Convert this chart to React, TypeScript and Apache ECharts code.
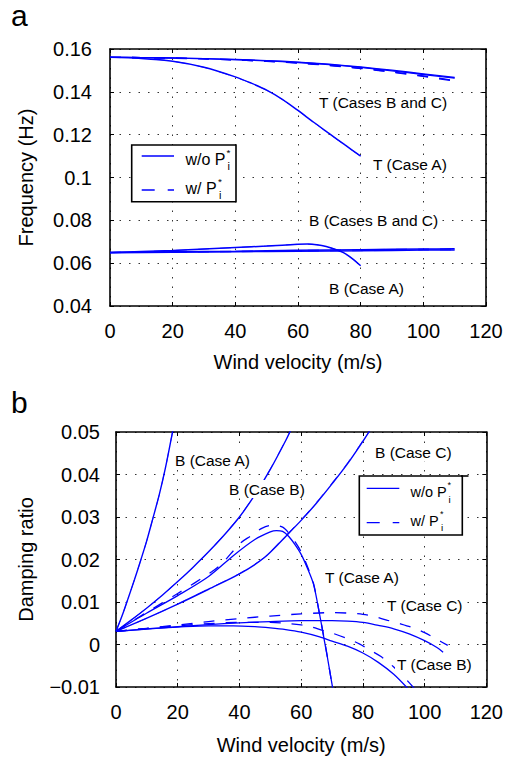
import React, { useEffect, useRef } from 'react';
import * as echarts from 'echarts';

const W = 506;
const H = 758;
const BLUE = '#0000ff';
const FONT = '"Liberation Sans", Arial, Helvetica, sans-serif';
const DASH = [11, 11];

// ---------- tick labels ----------
const X_TICKS = ['0', '20', '40', '60', '80', '100', '120'];
const FREQ_TICKS = ['0.04', '0.06', '0.08', '0.1', '0.12', '0.14', '0.16'];
const DAMP_TICKS = ['\u22120.01', '0', '0.01', '0.02', '0.03', '0.04', '0.05'];

// ---------- panel a : frequency ----------
const FT_BC_X = [0, 10, 20, 30, 40, 50, 60, 70, 80, 90, 100, 110];
const FT_B_SOLID = [0.1561, 0.156, 0.1558, 0.1555, 0.1551, 0.1546, 0.1539, 0.1529, 0.1516, 0.1501, 0.1484, 0.1467];
const FT_C_SOLID = [0.1561, 0.156, 0.1558, 0.1555, 0.155, 0.1545, 0.1537, 0.1527, 0.1514, 0.1498, 0.1481, 0.1464];
const FT_B_DASH = [0.1561, 0.156, 0.1558, 0.1554, 0.1549, 0.1543, 0.1535, 0.1524, 0.151, 0.1493, 0.1474, 0.1453];
const FT_C_DASH = [0.1561, 0.156, 0.1557, 0.1554, 0.1549, 0.1542, 0.1534, 0.1523, 0.1509, 0.1492, 0.1472, 0.145];

const FT_A_X = [0, 10, 20, 30, 40, 45, 50, 55, 60, 65, 70, 75, 80];
const FT_A_SOLID = [0.1561, 0.1556, 0.1543, 0.1515, 0.147, 0.1441, 0.1408, 0.1365, 0.1313, 0.1258, 0.1205, 0.1152, 0.11];
const FT_A_DASH = [0.1561, 0.1556, 0.1543, 0.1514, 0.1469, 0.144, 0.1407, 0.1364, 0.1312, 0.1257, 0.1204, 0.1151, 0.1099];

const FB_BC_X = [0, 20, 40, 60, 80, 100, 110];
const FB_B_SOLID = [0.065, 0.0653, 0.0656, 0.066, 0.0663, 0.0666, 0.0667];
const FB_C_SOLID = [0.0649, 0.0651, 0.0653, 0.0656, 0.0658, 0.0661, 0.0662];
const FB_B_DASH = [0.065, 0.0653, 0.0656, 0.066, 0.0663, 0.0666, 0.0667];
const FB_C_DASH = [0.0649, 0.0651, 0.0653, 0.0656, 0.0658, 0.0661, 0.0662];

const FB_A_X = [0, 10, 20, 30, 40, 50, 60, 63, 66, 69, 72, 74.5, 77, 80];
const FB_A_SOLID = [0.065, 0.0654, 0.0659, 0.0666, 0.0673, 0.068, 0.0688, 0.0689, 0.0686, 0.0678, 0.0664, 0.0649, 0.0625, 0.0588];
const FB_A_DASH = [0.065, 0.0654, 0.0659, 0.0666, 0.0673, 0.068, 0.0688, 0.0689, 0.0686, 0.0678, 0.0664, 0.0649, 0.0625, 0.0588];

// ---------- panel b : damping ratio ----------
const DB_A_X = [0, 2, 4, 6, 8, 10, 12, 14, 16, 18, 19];
const DB_A_SOLID = [0.0031, 0.0068, 0.011, 0.0153, 0.0198, 0.0245, 0.0298, 0.0352, 0.0415, 0.0488, 0.0525];
const DB_A_DASH = [0.0031, 0.0068, 0.011, 0.0153, 0.0198, 0.0245, 0.0298, 0.0352, 0.0415, 0.0488, 0.0525];

const DB_B_X = [0, 5, 10, 15, 20, 25, 30, 35, 40, 45, 50, 55, 57];
const DB_B_SOLID = [0.0031, 0.0058, 0.0086, 0.0116, 0.0148, 0.0182, 0.0218, 0.0257, 0.03, 0.0352, 0.0412, 0.048, 0.051];
const DB_B_DASH = [0.0031, 0.0058, 0.0086, 0.0116, 0.0148, 0.0182, 0.0219, 0.0258, 0.0301, 0.0353, 0.0413, 0.0481, 0.0511];

const DB_C_X = [0, 10, 20, 30, 40, 48, 56, 60, 65, 70, 75, 80, 83];
const DB_C_SOLID = [0.0031, 0.0062, 0.0095, 0.013, 0.0166, 0.0204, 0.0262, 0.0292, 0.0333, 0.0378, 0.0425, 0.0478, 0.0512];
const DB_C_DASH = [0.0031, 0.0062, 0.0095, 0.0131, 0.0167, 0.0205, 0.0264, 0.0294, 0.0335, 0.038, 0.0427, 0.048, 0.0514];

const DT_A_SOLID_X = [0, 10, 20, 30, 38, 45, 50, 52, 54, 56, 58, 60, 62, 64, 66, 67.3, 68.5, 70.2];
const DT_A_SOLID = [0.0031, 0.0074, 0.0115, 0.016, 0.0209, 0.0247, 0.0265, 0.0268, 0.0266, 0.0254, 0.0235, 0.0212, 0.018, 0.0142, 0.007, 0.0018, -0.003, -0.0102];
const DT_A_DASH_X = [0, 10, 20, 31, 34.4, 40.4, 43.6, 47.4, 51, 54, 56, 58, 60, 62, 64, 66, 68, 70];
const DT_A_DASH = [0.0031, 0.0076, 0.012, 0.0171, 0.0191, 0.0239, 0.0255, 0.0274, 0.0281, 0.0276, 0.0262, 0.0242, 0.0218, 0.0184, 0.0144, 0.007, -0.0008, -0.0095];

const DT_C_SOLID_X = [0, 10, 20, 30, 40, 50, 60, 70, 75, 80, 85, 90, 95, 100, 104, 106];
const DT_C_SOLID = [0.0031, 0.0036, 0.0042, 0.0047, 0.0051, 0.0054, 0.0056, 0.0056, 0.0055, 0.0052, 0.0045, 0.0037, 0.0025, 0.0009, -0.0007, -0.0018];
const DT_C_DASH_X = [0, 10, 20, 30, 40, 50, 60, 70, 75, 80, 84, 88, 92, 96, 100, 104, 107.5];
const DT_C_DASH = [0.0031, 0.0038, 0.0046, 0.0054, 0.0061, 0.0067, 0.0072, 0.0075, 0.0074, 0.0071, 0.0065, 0.0057, 0.0049, 0.004, 0.0028, 0.0012, -0.0002];

const DT_B_SOLID_X = [0, 10, 20, 30, 38, 45, 50, 55, 60, 66, 70, 75, 80, 85, 90, 94.5];
const DT_B_SOLID = [0.0031, 0.0037, 0.0041, 0.0044, 0.0044, 0.0042, 0.0039, 0.0035, 0.0029, 0.0018, 0.0008, -0.0004, -0.002, -0.0042, -0.007, -0.0103];
const DT_B_DASH_X = [0, 10, 20, 30, 40, 50, 55, 60, 63, 67, 70, 75, 79, 82, 86, 90, 94, 97];
const DT_B_DASH = [0.0031, 0.0038, 0.0044, 0.0049, 0.0052, 0.0052, 0.005, 0.0046, 0.0042, 0.0033, 0.0027, 0.0014, 0.0001, -0.0012, -0.0029, -0.0053, -0.0082, -0.0106];

// ---------- annotation texts ----------
const A_LABELS = ['T (Cases B and C)', 'T (Case A)', 'B (Cases B and C)', 'B (Case A)'];
const B_LABELS = ['B (Case A)', 'B (Case B)', 'B (Case C)', 'T (Case A)', 'T (Case C)', 'T (Case B)'];
const LEGEND_SOLID = 'w/o P';
const LEGEND_DASH = 'w/ P';

function pairs(xs: number[], ys: number[]) {
  return xs.map((x, i) => [x, ys[i]]);
}

function line(xs: number[], ys: number[], dashed: boolean, g: number, width = 1.3) {
  return {
    type: 'line',
    xAxisIndex: g * 2,
    yAxisIndex: g * 2,
    data: pairs(xs, ys),
    showSymbol: false,
    symbol: 'none',
    smooth: 0.3,
    clip: true,
    silent: true,
    lineStyle: { color: BLUE, width, type: dashed ? DASH : 'solid' },
    z: dashed ? 3 : 4,
  };
}

function txt(text: string, x: number, y: number, size: number, bg = true, align = 'left') {
  return {
    type: 'text',
    x,
    y,
    z: 100,
    style: {
      text,
      fill: '#000',
      fontSize: size,
      fontFamily: FONT,
      align,
      textAlign: align,
      verticalAlign: 'middle',
      textVerticalAlign: 'middle',
      backgroundColor: bg ? '#fff' : undefined,
      padding: bg ? [1, 2] : 0,
    },
  };
}

function legend(bx: number, by: number, bw: number, bh: number, lx1: number, lx2: number, y1: number, y2: number,
  tx: number, t1y: number, t2y: number, size: number, s1x: number, s2x: number) {
  const els: any[] = [
    { type: 'rect', z: 99, shape: { x: bx, y: by, width: bw, height: bh }, style: { fill: '#fff', stroke: '#000', lineWidth: 1.6 } },
    { type: 'line', z: 100, shape: { x1: lx1, y1, x2: lx2, y2: y1 }, style: { stroke: BLUE, lineWidth: 1.3 } },
    { type: 'line', z: 100, shape: { x1: lx1, y1: y2, x2: lx2, y2 }, style: { stroke: BLUE, lineWidth: 1.3, lineDash: [13, 13] } },
    txt(LEGEND_SOLID, tx, t1y, size, false),
    txt('*', s1x, t1y - 7, size * 0.62, false),
    txt('i', s1x + 1, t1y + 7, size * 0.68, false),
    txt(LEGEND_DASH, tx, t2y, size, false),
    txt('*', s2x, t2y - 7, size * 0.62, false),
    txt('i', s2x + 1, t2y + 7, size * 0.68, false),
  ];
  return els;
}

function xAxes(g: number, nameGap: number) {
  return [
    {
      gridIndex: g, type: 'value', min: 0, max: 120, interval: 20, position: 'bottom',
      axisLine: { show: true, onZero: false, lineStyle: { color: '#000', width: 1.6 } },
      axisTick: { show: true, inside: true, length: 4, lineStyle: { color: '#000' } },
      axisLabel: {
        color: '#000', fontSize: 20, fontFamily: FONT, margin: 15,
        formatter: (v: number) => X_TICKS[Math.round(v / 20)],
      },
      splitLine: { show: true, lineStyle: { color: '#333', width: 1, type: [1.5, 8] } },
      name: 'Wind velocity (m/s)', nameLocation: 'middle', nameGap,
      nameTextStyle: { color: '#000', fontSize: 20, fontFamily: FONT },
    },
    {
      gridIndex: g, type: 'value', min: 0, max: 120, interval: 20, position: 'top',
      axisLine: { show: true, onZero: false, lineStyle: { color: '#000', width: 1.6 } },
      axisTick: { show: true, inside: true, length: 4, lineStyle: { color: '#000' } },
      axisLabel: { show: false }, splitLine: { show: false },
    },
  ];
}

function yAxes(g: number, min: number, max: number, interval: number, labels: string[], name: string, nameGap: number, margin: number) {
  return [
    {
      gridIndex: g, type: 'value', min, max, interval, position: 'left',
      axisLine: { show: true, onZero: false, lineStyle: { color: '#000', width: 1.6 } },
      axisTick: { show: true, inside: true, length: 4, lineStyle: { color: '#000' } },
      axisLabel: {
        color: '#000', fontSize: 20, fontFamily: FONT, margin,
        formatter: (v: number) => labels[Math.round((v - min) / interval)],
      },
      splitLine: { show: true, lineStyle: { color: '#333', width: 1, type: [1.5, 8] } },
      name, nameLocation: 'middle', nameGap, nameRotate: 90,
      nameTextStyle: { color: '#000', fontSize: 20, fontFamily: FONT },
    },
    {
      gridIndex: g, type: 'value', min, max, interval, position: 'right',
      axisLine: { show: true, onZero: false, lineStyle: { color: '#000', width: 1.6 } },
      axisTick: { show: true, inside: true, length: 4, lineStyle: { color: '#000' } },
      axisLabel: { show: false }, splitLine: { show: false },
    },
  ];
}

export default function App() {
  const ref = useRef<HTMLDivElement>(null);
  useEffect(() => {
    if (!ref.current) return;
    const chart = echarts.init(ref.current, null, { renderer: 'svg', width: W, height: H });
    const THIN = 0.7;
    const series = [
      line(FT_BC_X, FT_B_DASH, true, 0),
      line(FT_BC_X, FT_C_DASH, true, 0),
      line(FT_A_X, FT_A_DASH, true, 0, THIN),
      line(FB_BC_X, FB_B_DASH, true, 0, THIN),
      line(FB_BC_X, FB_C_DASH, true, 0, THIN),
      line(FB_A_X, FB_A_DASH, true, 0, THIN),
      line(FT_BC_X, FT_B_SOLID, false, 0),
      line(FT_BC_X, FT_C_SOLID, false, 0),
      line(FT_A_X, FT_A_SOLID, false, 0, 1.5),
      line(FB_BC_X, FB_B_SOLID, false, 0, 1.5),
      line(FB_BC_X, FB_C_SOLID, false, 0, 1.5),
      line(FB_A_X, FB_A_SOLID, false, 0, 1.5),

      line(DB_A_X, DB_A_DASH, true, 1, THIN),
      line(DB_B_X, DB_B_DASH, true, 1, THIN),
      line(DB_C_X, DB_C_DASH, true, 1, THIN),
      line(DT_A_DASH_X, DT_A_DASH, true, 1),
      line(DT_C_DASH_X, DT_C_DASH, true, 1),
      line(DT_B_DASH_X, DT_B_DASH, true, 1),
      line(DB_A_X, DB_A_SOLID, false, 1, 1.4),
      line(DB_B_X, DB_B_SOLID, false, 1, 1.4),
      line(DB_C_X, DB_C_SOLID, false, 1, 1.4),
      line(DT_A_SOLID_X, DT_A_SOLID, false, 1),
      line(DT_C_SOLID_X, DT_C_SOLID, false, 1),
      line(DT_B_SOLID_X, DT_B_SOLID, false, 1),
    ];

    const graphics: any[] = [
      txt('a', 11, 15, 30, false),
      txt('b', 11, 402, 30, false),
      txt(A_LABELS[0], 317, 102.7, 15.5),
      txt(A_LABELS[1], 371, 164.3, 15.5),
      txt(A_LABELS[2], 307, 220, 15.5),
      txt(A_LABELS[3], 327, 288.7, 15.5),
      txt(B_LABELS[0], 173, 460, 15.5),
      txt(B_LABELS[1], 227, 489, 15.5),
      txt(B_LABELS[2], 373, 452.7, 15.5),
      txt(B_LABELS[3], 323, 577, 15.5),
      txt(B_LABELS[4], 385, 605, 15.5),
      txt(B_LABELS[5], 395, 664.7, 15.5),
      ...legend(131.7, 145, 104.3, 56.7, 141.7, 174, 156, 190, 185.5, 159.3, 188.3, 16, 226.5, 218),
      ...legend(359.3, 476, 103, 59, 366.7, 399.3, 488.3, 522.7, 410.5, 492.3, 520.7, 14.5, 447.5, 440),
      { type: 'line', z: 100, shape: { x1: 461, y1: 476, x2: 468.5, y2: 476 }, style: { stroke: '#000', lineWidth: 1.6 } },
    ];

    chart.setOption({
      animation: false,
      backgroundColor: '#fff',
      grid: [
        { left: 110, top: 49, width: 376, height: 257, containLabel: false },
        { left: 116, top: 432, width: 375, height: 255, containLabel: false },
      ],
      xAxis: [...xAxes(0, 46), ...xAxes(1, 48)],
      yAxis: [
        ...yAxes(0, 0.04, 0.16, 0.02, FREQ_TICKS, 'Frequency (Hz)', 74, 18),
        ...yAxes(1, -0.01, 0.05, 0.01, DAMP_TICKS, 'Damping ratio', 80, 16),
      ],
      series,
      graphic: { elements: graphics },
    });
    return () => chart.dispose();
  }, []);
  return (
    <div
      ref={ref}
      style={{ position: 'fixed', left: 0, top: 0, width: W, height: H, background: '#fff' }}
    />
  );
}
